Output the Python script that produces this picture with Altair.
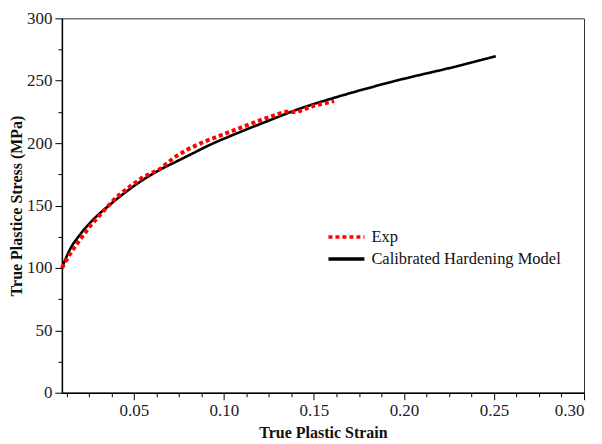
import altair as alt
import pandas as pd

exp_strain = [0.010, 0.014, 0.018, 0.0255, 0.0329, 0.0403, 0.0477, 0.055, 0.0643,
              0.0726, 0.080, 0.088, 0.1021, 0.1179, 0.1335, 0.141, 0.1492, 0.1612]
exp_stress = [100, 110, 118.6, 133.3, 145.3, 156.7, 165.2, 172.7, 179.1,
              188.7, 195.1, 200.5, 208.4, 217.2, 225.1, 225.0, 229.7, 233.7]

# Calibrated hardening model
mod_strain = [0.010, 0.0144, 0.020, 0.0273, 0.0366, 0.0458, 0.055, 0.0643, 0.0735,
              0.0828, 0.092, 0.1049, 0.1234, 0.1419, 0.164, 0.197, 0.2305, 0.251]
mod_stress = [100, 114.6, 126.6, 138.6, 150.6, 161.2, 170.6, 178.6, 185.2,
              191.9, 198.5, 206.5, 217.2, 227.5, 237.5, 250.5, 262.0, 269.6]

series_names = ["Exp", "Calibrated Hardening Model"]
series_colors = ["#ff0000", "#000000"]

x_ticks = [round(0.0125 * i, 4) for i in range(1, 25)]
y_ticks = [25 * i for i in range(0, 13)]

df_exp = pd.DataFrame({"strain": exp_strain, "stress": exp_stress, "series": "Exp"})
df_mod = pd.DataFrame({"strain": mod_strain, "stress": mod_stress,
                       "series": "Calibrated Hardening Model"})

FONT = "Liberation Serif"

x_enc = alt.X("strain:Q", scale=alt.Scale(domain=[0.01, 0.30], nice=False, zero=False),
              axis=alt.Axis(title="True Plastic Strain", values=x_ticks,
                            labelExpr="abs(datum.value*20 - round(datum.value*20)) < 1e-6 ? format(datum.value, '.2f') : ''",
                            tickSize={"condition": {"test": "abs(datum.value*20 - round(datum.value*20)) < 1e-6", "value": 7}, "value": 4},
                            labelPadding=3, titlePadding=6))
y_enc = alt.Y("stress:Q", scale=alt.Scale(domain=[0, 300], nice=False),
              axis=alt.Axis(title="True Plastice Stress (MPa)", values=y_ticks,
                            labelExpr="datum.value % 50 == 0 ? datum.label : ''",
                            tickSize={"condition": {"test": "datum.value % 50 == 0", "value": 7}, "value": 4},
                            labelPadding=3, titlePadding=2))

color_enc = alt.Color("series:N", scale=alt.Scale(domain=series_names, range=series_colors),
                      legend=alt.Legend(title=None, orient="none", legendX=274, legendY=208,
                                        symbolType="M-2,0H2", symbolSize=324,
                                        symbolStrokeWidth=3.5, labelLimit=400,
                                        labelFont=FONT, labelFontSize=16.5, labelColor="#111",
                                        labelOffset=14, rowPadding=2, padding=0))
dash_enc = alt.StrokeDash("series:N", scale=alt.Scale(domain=series_names, range=[[4, 3], [1, 0]]),
                          legend=None)

model = alt.Chart(df_mod).mark_line(strokeWidth=2.6, interpolate="monotone").encode(
    x=x_enc, y=y_enc, color=color_enc, strokeDash=dash_enc)
exp = alt.Chart(df_exp).mark_line(strokeWidth=4, strokeCap="butt").encode(
    x=x_enc, y=y_enc, color=color_enc, strokeDash=dash_enc)

chart = alt.layer(model, exp).properties(
    width=523, height=375,
    padding={"left": 54, "top": 10, "right": 10, "bottom": 52},
    autosize=alt.AutoSizeParams(type="none"),
).configure_view(stroke="#333", strokeWidth=1).configure_axis(
    domainColor="#000", domainWidth=1.5, tickColor="#000", tickWidth=1,
    labelFont=FONT, labelFontSize=17, labelColor="#222",
    titleFont=FONT, titleFontSize=16, titleFontWeight="bold", titleColor="#111",
    grid=False,
)

chart.save("out.html", embed_options={"renderer": "svg", "actions": False})
